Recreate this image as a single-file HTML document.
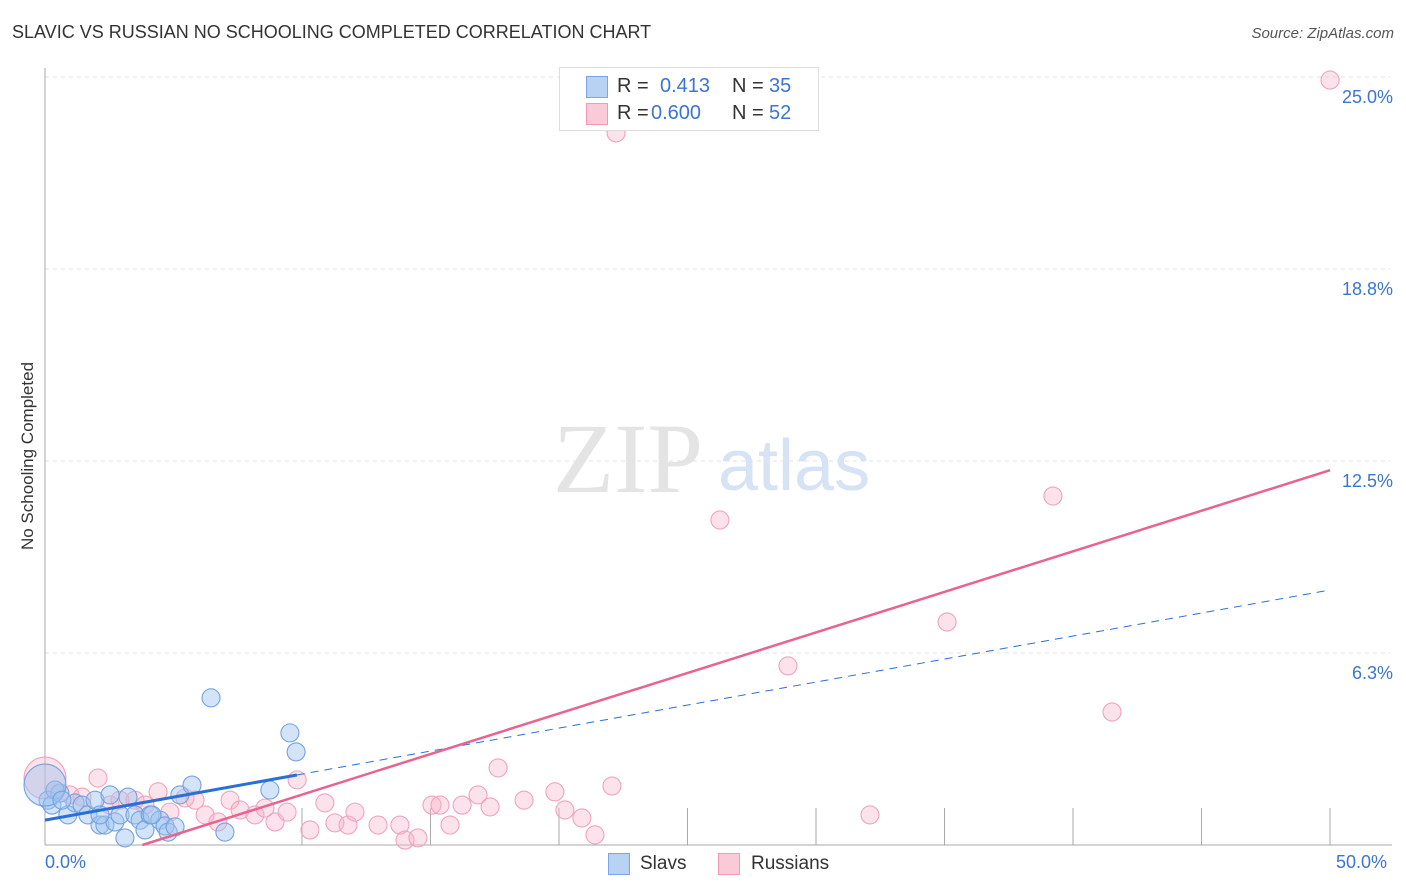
<!DOCTYPE html>
<html><head><meta charset="utf-8"><style>
body{margin:0;background:#fff;font-family:"Liberation Sans",sans-serif;}
#wrap{position:relative;width:1406px;height:892px;overflow:hidden;}
.t{position:absolute;white-space:nowrap;}
</style></head><body>
<div id="wrap">
<div class="t" style="left:12px;top:22px;font-size:18px;color:#333;">SLAVIC VS RUSSIAN NO SCHOOLING COMPLETED CORRELATION CHART</div>
<div class="t" style="right:12px;top:25px;font-size:15px;color:#555;font-style:italic;">Source: ZipAtlas.com</div>
<div class="t" style="top:456px;font-size:17px;color:#333;transform:translate(-50%,-50%) rotate(-90deg);left:28px;">No Schooling Completed</div>
<svg id="svg" width="1406" height="892" style="position:absolute;left:0;top:0"></svg>
</div>
<script>
const blueX=[0.12,0.27,0.58,0.89,1.17,1.44,1.67,1.95,2.14,2.33,2.53,2.72,2.92,3.23,3.50,3.70,3.89,4.09,4.47,4.67,4.79,5.06,5.25,5.72,6.46,7.00,8.75,9.53,9.77,3.11,0.39,0,0.66,4.16,2.14];
const blueY=[1.46,1.30,1.69,0.98,1.37,1.30,0.98,1.46,0.65,0.65,1.63,0.75,0.98,1.56,0.98,0.81,0.49,0.98,0.81,0.62,0.42,0.59,1.63,1.95,4.79,0.42,1.79,3.65,3.03,0.23,1.79,1.95,1.46,0.98,0.98];
const pinkX=[0,0.39,0.97,1.44,2.06,2.53,2.92,3.50,3.89,4.40,4.86,5.45,5.84,6.23,6.73,7.20,7.59,8.17,8.56,8.95,9.42,9.81,10.31,10.89,11.28,11.79,12.06,12.96,13.81,14.01,14.51,15.06,15.37,15.76,16.23,16.85,17.32,17.63,18.64,19.84,20.23,20.89,21.40,22.06,22.22,26.26,28.91,32.10,35.10,39.22,41.52,50];
const pinkY=[2.18,1.79,1.63,1.56,2.18,1.30,1.46,1.46,1.30,1.73,1.07,1.53,1.46,0.98,0.75,1.46,1.14,0.98,1.20,0.75,1.07,2.12,0.49,1.37,0.72,0.65,1.07,0.65,0.65,0.16,0.23,1.30,1.30,0.65,1.30,1.63,1.24,2.51,1.46,1.73,1.14,0.88,0.33,1.92,23.18,10.58,5.83,0.98,7.26,11.36,4.33,24.9];
const yTicks=[6.25,12.5,18.75,25.0];
const yTickLabels=['6.3%','12.5%','18.8%','25.0%'];
const blueTrend=[0.81,8.3];
const pinkTrend=[-1.0,12.2];
const X0=45,X1=1330,Y0=845,YT=77;
const sx=v=>X0+(X1-X0)*v/50, sy=v=>Y0-(Y0-YT)*v/25;
const svg=document.getElementById('svg');const NS='http://www.w3.org/2000/svg';
function mk(tag,a){const e=document.createElementNS(NS,tag);for(const k in a)e.setAttribute(k,a[k]);svg.appendChild(e);return e;}
yTicks.forEach((t,i)=>{const g=mk('line',{x1:X0,x2:1390,y1:sy(t),y2:sy(t),stroke:'#e2e2e2','stroke-dasharray':'4,4'});


const tx=mk('text',{x:1393,y:sy(t)+26,'text-anchor':'end','font-size':'18',fill:'#3a74d4','font-family':'Liberation Sans'});tx.textContent=yTickLabels[i];

});
mk('line',{x1:X0,x2:X0,y1:68,y2:Y0,stroke:'#aaa'});
mk('line',{x1:X0,x2:1392,y1:Y0,y2:Y0,stroke:'#aaa'});
for(let i=0;i<9;i++){const x=302+128.5*i;if(x>1331)break;const l=mk('line',{x1:x,x2:x,y1:808,y2:Y0,stroke:'#aaa'});

}
const w1=mk('text',{x:553,y:492,'font-size':'100','font-family':'Liberation Serif',fill:'#e4e4e4'});w1.textContent='ZIP';


const w2=mk('text',{x:718,y:490,'font-size':'72','font-family':'Liberation Sans',fill:'#d6e3f5'});w2.textContent='atlas';


function dots(X,Y,fill,stroke,name){X.forEach((x,i)=>{const big=(x===0);const c=mk('circle',{cx:sx(x),cy:sy(Y[i]),r:big?21:9,fill:fill,stroke:stroke,'stroke-width':1.1});

});}
dots(pinkX,pinkY,'rgba(248,180,200,0.38)','#f2a3bb','russians-point');
dots(blueX,blueY,'rgba(160,196,240,0.45)','#74a2e0','slavs-point');
const by=x=>blueTrend[0]+(blueTrend[1]-blueTrend[0])*x/50;
mk('line',{x1:sx(0),y1:sy(by(0)),x2:sx(9.8),y2:sy(by(9.8)),stroke:'#2a6fd6','stroke-width':3});
mk('line',{x1:sx(9.8),y1:sy(by(9.8)),x2:sx(50),y2:sy(by(50)),stroke:'#2a6fd6','stroke-width':1,'stroke-dasharray':'8,6'});
const py=x=>pinkTrend[0]+(pinkTrend[1]-pinkTrend[0])*x/50;
const px0=-pinkTrend[0]*50/(pinkTrend[1]-pinkTrend[0]);
mk('line',{x1:sx(px0),y1:sy(0),x2:sx(50),y2:sy(py(50)),stroke:'#e8648e','stroke-width':2.5});
</script>
<div class="t" style="left:559px;top:67px;width:258px;height:62px;border:1px solid #ddd;background:#fff;font-size:20px;">
<div style="position:absolute;left:26px;top:8px;width:20px;height:20px;background:#b8d2f4;border:1px solid #7aa6e6;"></div>
<div class="t" style="left:57px;top:7px;color:#333;">R =</div><div class="t" style="left:100px;top:7px;color:#3a74d4;">0.413</div>
<div class="t" style="left:172px;top:7px;color:#333;">N =</div><div class="t" style="left:209px;top:7px;color:#3a74d4;">35</div>
<div style="position:absolute;left:26px;top:35px;width:20px;height:20px;background:#fbcad8;border:1px solid #f09ab4;"></div>
<div class="t" style="left:57px;top:34px;color:#333;">R =</div><div class="t" style="left:91px;top:34px;color:#3a74d4;">0.600</div>
<div class="t" style="left:172px;top:34px;color:#333;">N =</div><div class="t" style="left:209px;top:34px;color:#3a74d4;">52</div>
</div>
<div class="t" style="left:45px;top:852px;font-size:18px;color:#3a74d4;">0.0%</div>
<div class="t" style="left:1336px;top:852px;font-size:18px;color:#3a74d4;">50.0%</div>
<div style="position:absolute;left:608px;top:853px;width:20px;height:20px;background:#b8d2f4;border:1px solid #7aa6e6;"></div>
<div class="t" style="left:640px;top:853px;font-size:19px;color:#333;">Slavs</div>
<div style="position:absolute;left:718px;top:853px;width:20px;height:20px;background:#fbcad8;border:1px solid #f09ab4;"></div>
<div class="t" style="left:751px;top:853px;font-size:19px;color:#333;">Russians</div>
</body></html>
